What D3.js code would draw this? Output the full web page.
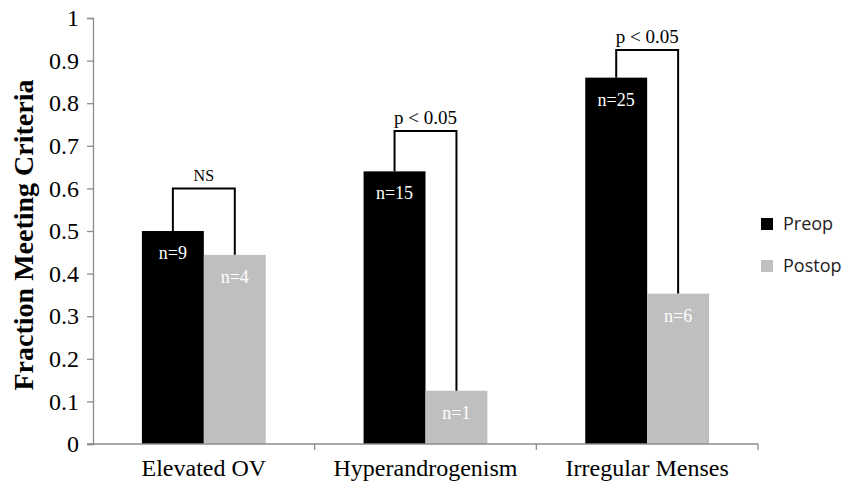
<!DOCTYPE html>
<html>
<head>
<meta charset="utf-8">
<script src="https://cdn.jsdelivr.net/npm/d3@7"></script>
<style>
  body { margin: 0; background: #fff; }
  svg { display: block; }
</style>
</head>
<body>
<svg width="846" height="484"></svg>
<script>
var categories = ['Elevated OV', 'Hyperandrogenism', 'Irregular Menses'];
var preop = [0.5, 0.64, 0.86];
var postop = [0.444, 0.125, 0.353];
var preopN = ['n=9', 'n=15', 'n=25'];
var postopN = ['n=4', 'n=1', 'n=6'];
var sigLabels = ['NS', 'p < 0.05', 'p < 0.05'];
var sigLevel = [0.6, 0.735, 0.925];
var yTicks = [0, 0.1, 0.2, 0.3, 0.4, 0.5, 0.6, 0.7, 0.8, 0.9, 1];

var svg = d3.select('svg');
var plotLeft = 93, plotRight = 758, plotTop = 18, plotBottom = 444;
var serif = '"Liberation Serif", "Times New Roman", serif';

var x = d3.scaleBand()
    .domain(categories)
    .range([plotLeft, plotRight])
    .padding(0);

var series = d3.scaleBand()
    .domain(['preop', 'postop'])
    .range([0, x.bandwidth()])
    .paddingInner(0)
    .paddingOuter(0.79);

var y = d3.scaleLinear()
    .domain([0, 1])
    .range([plotBottom, plotTop]);

var color = {preop: '#000000', postop: '#bfbfbf'};

var rows = categories.map(function(c, i){
    return {cat: c, preop: preop[i], postop: postop[i],
        preopN: preopN[i], postopN: postopN[i],
        sig: sigLabels[i], level: sigLevel[i]};
});

// bars
var groups = svg.selectAll('.grp')
    .data(rows)
    .enter()
    .append('g')
    .attr('class', 'grp')
    .attr('transform', function(d){ return 'translate(' + x(d.cat) + ',0)'; });

['preop', 'postop'].forEach(function(key){
    groups.append('rect')
        .attr('x', series(key))
        .attr('width', series.bandwidth())
        .attr('y', function(d){ return y(d[key]); })
        .attr('height', function(d){ return plotBottom - y(d[key]); })
        .attr('fill', color[key]);

    groups.append('text')
        .attr('x', series(key) + series.bandwidth() / 2)
        .attr('y', function(d){ return y(d[key]) + 28; })
        .attr('text-anchor', 'middle')
        .attr('fill', '#fff')
        .style('font-family', serif)
        .style('font-size', '18px')
        .text(function(d){ return d[key + 'N']; });
});

// significance brackets
var cx1 = series('preop') + series.bandwidth() / 2;
var cx2 = series('postop') + series.bandwidth() / 2;

groups.append('path')
    .attr('fill', 'none')
    .attr('stroke', '#000')
    .attr('stroke-width', 2)
    .attr('d', function(d){
        return 'M' + cx1 + ',' + y(d.preop) +
            'V' + y(d.level) +
            'H' + cx2 +
            'V' + y(d.postop);
    });

groups.append('text')
    .attr('x', (cx1 + cx2) / 2)
    .attr('y', function(d){ return y(d.level) - 7; })
    .attr('text-anchor', 'middle')
    .style('font-family', serif)
    .style('font-size', function(d){ return d.sig === 'NS' ? '16px' : '19px'; })
    .text(function(d){ return d.sig; });

// y axis
var yAxis = svg.append('g')
    .attr('transform', 'translate(' + plotLeft + ',0)')
    .call(d3.axisLeft(y).tickValues(yTicks).tickSize(6).tickFormat(d3.format('')));

yAxis.selectAll('line, path').attr('stroke', '#8c8c8c').attr('stroke-width', 1.3);
yAxis.selectAll('text')
    .attr('x', -14)
    .style('font-family', serif)
    .style('font-size', '24px')
    .attr('fill', '#000');

// x axis
var xAxis = svg.append('g')
    .attr('transform', 'translate(0,' + plotBottom + ')');

xAxis.append('line')
    .attr('x1', plotLeft - 6).attr('x2', plotRight)
    .attr('y1', 0).attr('y2', 0)
    .attr('stroke', '#8c8c8c').attr('stroke-width', 1.3);

xAxis.selectAll('.xt')
    .data(categories.slice(1).map(function(c){ return x(c); }).concat([plotRight]))
    .enter()
    .append('line')
    .attr('x1', function(d){ return d; })
    .attr('x2', function(d){ return d; })
    .attr('y1', 0).attr('y2', 6)
    .attr('stroke', '#8c8c8c').attr('stroke-width', 1.3);

xAxis.selectAll('.xl')
    .data(categories)
    .enter()
    .append('text')
    .attr('x', function(d){ return x(d) + x.bandwidth() / 2; })
    .attr('y', 32)
    .attr('text-anchor', 'middle')
    .style('font-family', serif)
    .style('font-size', '24px')
    .text(function(d){ return d; });

// y title
svg.append('text')
    .attr('transform', 'translate(33,235) rotate(-90)')
    .attr('text-anchor', 'middle')
    .style('font-family', serif)
    .style('font-size', '28px')
    .style('font-weight', 'bold')
    .text('Fraction Meeting Criteria');

// legend
var legend = svg.selectAll('.leg')
    .data([['Preop', color.preop], ['Postop', color.postop]])
    .enter()
    .append('g')
    .attr('transform', function(d, i){ return 'translate(761,' + (218 + i * 42) + ')'; });

legend.append('rect')
    .attr('width', 12).attr('height', 12)
    .attr('fill', function(d){ return d[1]; });

legend.append('text')
    .attr('x', 22)
    .attr('y', 6)
    .attr('dy', '0.35em')
    .style('font-family', '"Open Sans", "Noto Sans", sans-serif')
    .style('font-size', '18px')
    .attr('fill', '#222')
    .text(function(d){ return d[0]; });
</script>
</body>
</html>
